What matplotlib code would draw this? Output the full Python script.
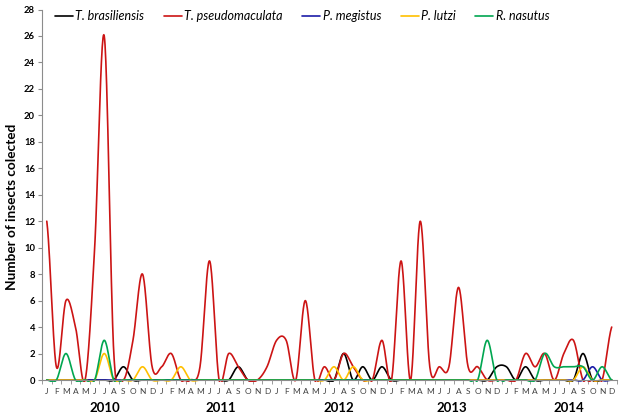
import numpy as np
import matplotlib
matplotlib.use("Agg")
import matplotlib.pyplot as plt
from matplotlib import transforms

plt.rcParams['font.family'] = ['Lato', 'DejaVu Sans']

month_letters = ['J', 'F', 'M', 'A', 'M', 'J', 'J', 'A', 'S', 'O', 'N', 'D']
years = ['2010', '2011', '2012', '2013', '2014']
month_labels = month_letters * len(years)

t_brasiliensis = [0, 0, 0, 0, 0, 0, 0, 0, 1, 0, 0, 0,
                  0, 0, 0, 0, 0, 0, 0, 0, 1, 0, 0, 0,
                  0, 0, 0, 0, 0, 0, 0, 2, 0, 1, 0, 1,
                  0, 0, 0, 0, 0, 0, 0, 0, 0, 0, 0, 1,
                  1, 0, 1, 0, 0, 0, 0, 0, 2, 0, 0, 0]
t_pseudomaculata = [12, 1, 6, 4, 0, 10, 26, 2, 0, 3, 8, 1,
                    1, 2, 0, 0, 1, 9, 0, 2, 1, 0, 0, 1,
                    3, 3, 0, 6, 0, 1, 0, 2, 1, 0, 0, 3,
                    0, 9, 0, 12, 1, 1, 1, 7, 1, 1, 0, 0,
                    0, 0, 2, 1, 2, 0, 2, 3, 0, 0, 0, 4]
p_megistus = [0] * 57 + [1, 0, 0]
p_lutzi = [0, 0, 0, 0, 0, 0, 2, 0, 0, 0, 1, 0,
           0, 0, 1, 0, 0, 0, 0, 0, 0, 0, 0, 0,
           0, 0, 0, 0, 0, 0, 1, 0, 1, 0, 0, 0,
           0, 0, 0, 0, 0, 0, 0, 0, 0, 0, 0, 0,
           0, 0, 0, 0, 0, 0, 0, 0, 1, 0, 0, 0]
r_nasutus = [0, 0, 2, 0, 0, 0, 3, 0, 0, 0, 0, 0,
             0, 0, 0, 0, 0, 0, 0, 0, 0, 0, 0, 0,
             0, 0, 0, 0, 0, 0, 0, 0, 0, 0, 0, 0,
             0, 0, 0, 0, 0, 0, 0, 0, 0, 0, 3, 0,
             0, 0, 0, 0, 2, 1, 1, 1, 1, 0, 1, 0]

series_names = ['T. brasiliensis', 'T. pseudomaculata', 'P. megistus', 'P. lutzi', 'R. nasutus']
series_values = [t_brasiliensis, t_pseudomaculata, p_megistus, p_lutzi, r_nasutus]
series_colors = ['#000000', '#cc1414', '#1c1ca8', '#ffc000', '#00a650']
year_label_pos = [6.1, 18.2, 30.5, 42.3, 54.5]


def smooth(values, n=24):
    """Catmull-Rom (Excel-style) smoothing of equally spaced points."""
    y = np.asarray(values, dtype=float)
    ext = np.concatenate([[y[0]], y, [y[-1]]])
    xs, ys = [], []
    for i in range(len(y) - 1):
        p0, p1, p2, p3 = ext[i], ext[i + 1], ext[i + 2], ext[i + 3]
        m1 = (p2 - p0) / 2.0
        m2 = (p3 - p1) / 2.0
        t = np.linspace(0, 1, n, endpoint=(i == len(y) - 2))
        h00 = 2 * t**3 - 3 * t**2 + 1
        h10 = t**3 - 2 * t**2 + t
        h01 = -2 * t**3 + 3 * t**2
        h11 = t**3 - t**2
        xs.append(i + t)
        ys.append(h00 * p1 + h10 * m1 + h01 * p2 + h11 * m2)
    return np.concatenate(xs), np.concatenate(ys)


W, H = 624, 419
fig = plt.figure(figsize=(W / 100, H / 100), dpi=100)
y0_px, y28_px = 380.0, 9.5
unit = (y0_px - y28_px) / 28.0
ybot = -0.12
bot_px = y0_px - ybot * unit
ax = fig.add_axes([42 / W, (H - bot_px) / H, (616.5 - 42) / W, (bot_px - y28_px) / H])

handles = []
for name, vals, col in zip(series_names, series_values, series_colors):
    sx, sy = smooth(vals)
    ln, = ax.plot(sx, sy, color=col, lw=1.2, label=name, solid_capstyle='round')
    handles.append(ln)

ax.set_xlim(-0.5, len(month_labels) - 0.5)
ax.set_ylim(ybot, 28)

for s in ['top', 'right']:
    ax.spines[s].set_visible(False)
ax.spines['left'].set_color('#8c8c8c')
ax.spines['bottom'].set_color('#8c8c8c')
ax.spines['bottom'].set_position(('data', 0))
ax.spines['left'].set_bounds(0, 28)

ax.set_yticks(np.arange(0, 29, 2))
ax.set_yticklabels([str(v) for v in range(0, 29, 2)], fontsize=6.8, fontweight='bold')
ax.tick_params(axis='y', direction='out', length=3, color='#8c8c8c', pad=2)

ax.set_xticks(np.arange(len(month_labels)))
ax.set_xticklabels(month_labels, fontsize=6, color='#404040')
ax.set_xticks(np.arange(len(month_labels) + 1) - 0.5, minor=True)
ax.tick_params(axis='x', which='major', length=0, pad=5.5)
ax.tick_params(axis='x', which='minor', length=3, color='#8c8c8c', direction='out')

trans = transforms.blended_transform_factory(ax.transData, fig.transFigure)
for yr, pos in zip(years, year_label_pos):
    fig.text(pos, 1 - 408 / H, yr, transform=trans, ha='center', va='center',
             fontsize=9.5, fontweight='bold')

fig.text(12.3 / W, 1 - 207 / H, 'Number of insects colected', rotation=90,
         ha='center', va='center', fontsize=9.8, fontweight='bold')

fig.legend(handles=handles, loc='center', bbox_to_anchor=(302 / W, 1 - 16 / H),
           ncol=5, frameon=False, prop={'style': 'italic', 'size': 9},
           handlelength=1.45, handletextpad=0.2, columnspacing=1.55, borderpad=0)

fig.savefig('out.png', dpi=100)
